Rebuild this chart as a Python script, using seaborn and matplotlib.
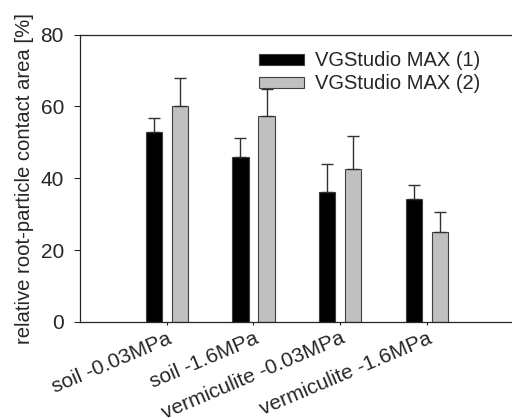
import pandas as pd
import matplotlib
matplotlib.use("Agg")
import matplotlib.pyplot as plt
import seaborn as sns

# Dados
categorias = ["soil -0.03MPa", "soil -1.6MPa", "vermiculite -0.03MPa", "vermiculite -1.6MPa"]
series = ["VGStudio MAX (1)", "VGStudio MAX (2)"]
media_1 = [52.9, 45.8, 36.2, 34.3]
media_2 = [60.2, 57.3, 42.7, 25.1]
erro_1 = [3.9, 5.5, 7.7, 3.8]
erro_2 = [7.8, 7.6, 9.1, 5.6]

df = pd.DataFrame({
    "categoria": categorias * 2,
    "serie": [series[0]] * 4 + [series[1]] * 4,
    "valor": media_1 + media_2,
})

sns.set_style("ticks")
plt.rcParams["font.family"] = ["Liberation Sans", "DejaVu Sans"]

fig = plt.figure(figsize=(5.12, 4.18), dpi=100)
ax = fig.add_axes([0.156, 0.23, 0.846, 0.687])

sns.barplot(data=df, x="categoria", y="valor", hue="serie", order=categorias,
            hue_order=series, palette=["black", "#c0c0c0"], width=0.6, gap=0.38,
            errorbar=None, edgecolor="#404040", linewidth=0.8, ax=ax)

# Barras de erro (só para cima)
erros = erro_1 + erro_2
for patch, err in zip(ax.patches[:8], erros):
    cx = patch.get_x() + patch.get_width() / 2
    h = patch.get_height()
    ax.errorbar(cx, h, yerr=[[0], [err]], fmt="none", ecolor="#303030",
                elinewidth=1.0, capsize=4, capthick=1.0, zorder=3)

ax.set_xlim(-1, 3.99)
ax.set_ylim(0, 80)
ax.set_yticks([0, 20, 40, 60, 80])
ax.set_xlabel("")
ax.set_ylabel("relative root-particle contact area [%]", fontsize=14.6, labelpad=5)
ax.tick_params(axis="y", labelsize=15, length=4.5, width=0.8, pad=7)
ax.tick_params(axis="x", length=2, width=0.8, labelsize=15, pad=3)
plt.setp(ax.get_xticklabels(), rotation=23, ha="right", rotation_mode="anchor")
ax.spines["right"].set_visible(False)
for s in ["left", "top", "bottom"]:
    ax.spines[s].set_linewidth(0.9)

leg = ax.legend(loc="upper left", bbox_to_anchor=(0.394, 0.97), frameon=False,
                fontsize=14.5, handlelength=2.25, handleheight=0.45,
                labelspacing=0.2, handletextpad=0.55, borderaxespad=0)

fig.savefig("out.png", dpi=100)
